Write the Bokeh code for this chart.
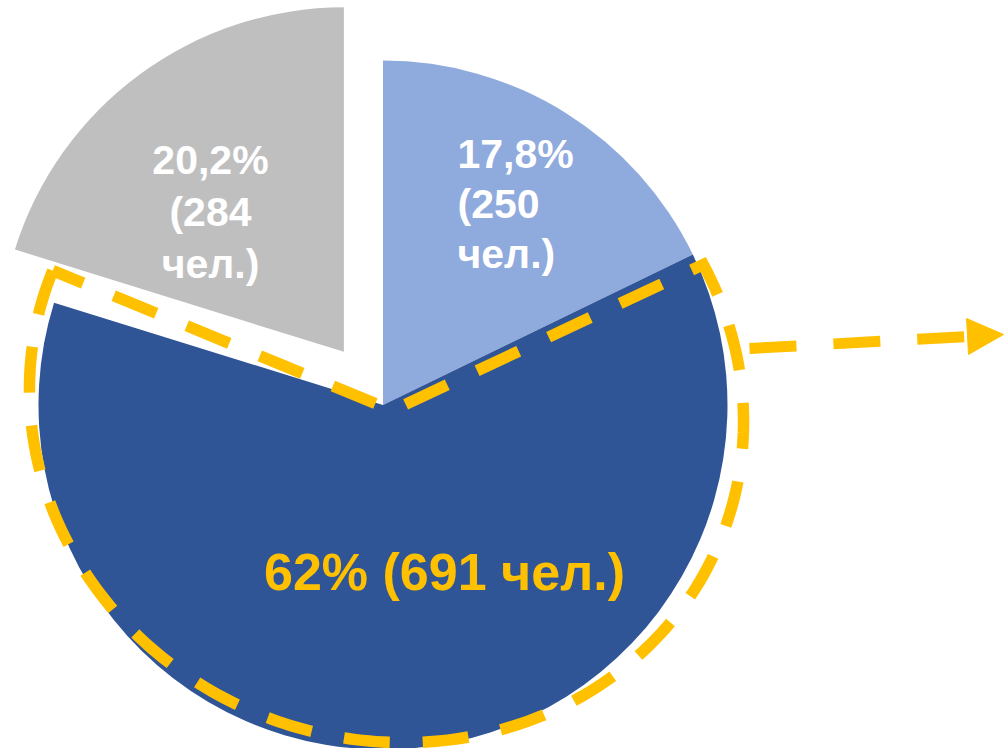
import numpy as np
from bokeh.plotting import figure
from bokeh.models import Range1d, ColumnDataSource, Arrow, NormalHead
from bokeh.core.properties import value
from bokeh.embed import file_html
from bokeh.resources import INLINE

# ---- data ----
categories = ["light", "dark", "gray"]
percent = [17.8, 62.0, 20.2]
people = [250, 691, 284]
pct_labels = ["17,8%", "62%", "20,2%"]
colors = ["#8FAADC", "#2F5597", "#BFBFBF"]
label_colors = ["#FFFFFF", "#FFC000", "#FFFFFF"]
explode = [0, 0, 66]

W, H = 1004, 748
ACCENT = "#FFC000"

p = figure(width=W, height=H, output_backend="svg", toolbar_location=None,
           x_range=Range1d(0, W), y_range=Range1d(0, H),
           x_axis_location=None, y_axis_location=None,
           min_border=0, outline_line_color=None)
p.grid.visible = False
p.background_fill_color = "white"
p.border_fill_color = "white"

def sy(y):  # screen y -> data y
    return H - y

cx, cy = 382.5, sy(404.5)
R = 344.5

# wedges
fr = np.array(percent) / sum(percent)
cum = np.concatenate([[0], np.cumsum(fr)])
start = np.pi / 2 - 2 * np.pi * cum[:-1]
end = np.pi / 2 - 2 * np.pi * cum[1:]
mid = (start + end) / 2
xs = cx + np.array(explode) * np.cos(mid)
ys = cy + np.array(explode) * np.sin(mid)
src = ColumnDataSource(dict(x=xs, y=ys, start=start, end=end, color=colors, cat=categories))
p.wedge(x="x", y="y", radius=R, start_angle="start", end_angle="end", direction="clock",
        fill_color="color", line_color=None, source=src)

# dashed outline around the dark slice (freeform ellipse-like)
ec_x, ec_y = 386, 405  # screen
a_e, b_e, phi = 360, 334, np.deg2rad(20)
th = np.deg2rad(np.linspace(202, -24, 200))
rr = 1 / np.sqrt(np.cos(th - phi) ** 2 / a_e ** 2 + np.sin(th - phi) ** 2 / b_e ** 2)
ox = list(ec_x + rr * np.cos(th))
oy = list(ec_y + rr * np.sin(th))
vx, vy = cx + 9.5, 404.5 + 5.5
ox += [vx, ox[0]]
oy += [vy, oy[0]]
p.line(ox, [sy(v) for v in oy], line_color=ACCENT, line_width=11.5, line_dash="46 33",
       line_join="miter")

# dashed arrow
arrow = Arrow(end=NormalHead(size=36, fill_color=ACCENT, line_color=ACCENT, line_width=1),
              x_start=749, y_start=sy(348), x_end=1003, y_end=sy(334),
              line_color=ACCENT, line_width=11, line_dash="47 37")
p.add_layout(arrow)

# labels
texts = [
    [pct_labels[0], f"({people[0]}", "чел.)"],
    [f"{pct_labels[1]} ({people[1]} чел.)"],
    [pct_labels[2], f"({people[2]}", "чел.)"],
]
layout = [
    dict(x=457, y0=153, gap=50, align="left", size="41px"),
    dict(x=444, y0=571, gap=0, align="center", size="52px"),
    dict(x=210, y0=159, gap=52, align="center", size="41px"),
]
for lines, lay, col in zip(texts, layout, label_colors):
    n = len(lines)
    p.text(x=[lay["x"]] * n, y=[sy(lay["y0"] + i * lay["gap"]) for i in range(n)], text=lines,
           text_color=col, text_font=value("Liberation Sans"), text_font_style="bold",
           text_font_size=lay["size"], text_align=lay["align"], text_baseline="alphabetic")

open("out.html", "w").write(file_html(p, INLINE))
